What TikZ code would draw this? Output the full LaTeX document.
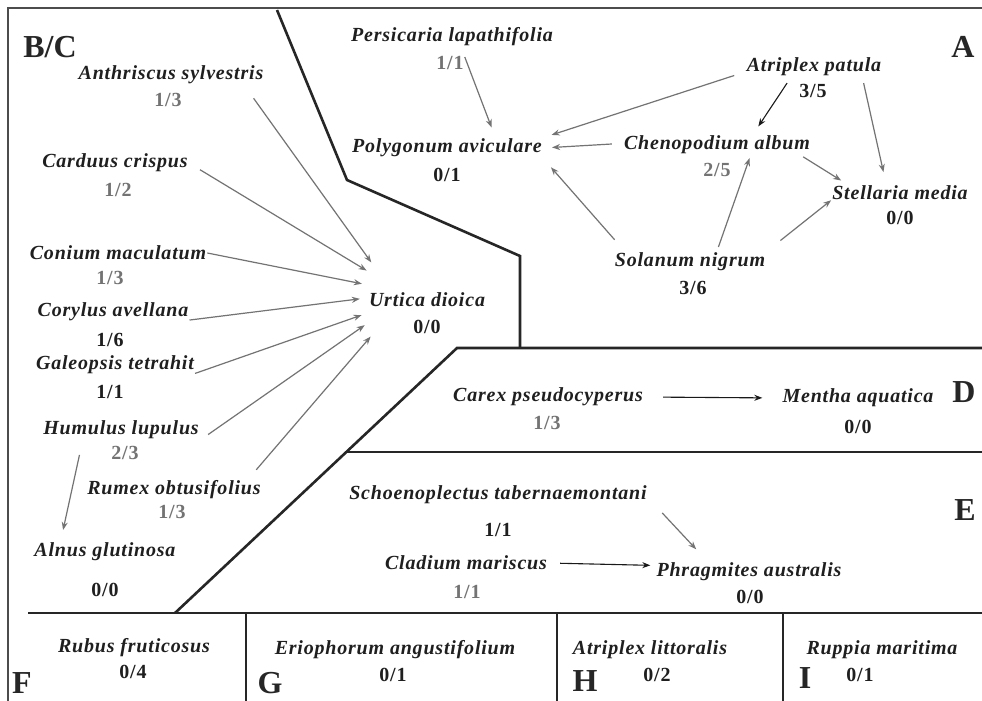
\documentclass[tikz,border=0pt]{standalone}
\usepackage{fontspec}
\setmainfont{Liberation Serif}
\newfontfamily\plantfont[LetterSpace=4]{Liberation Serif}
\usetikzlibrary{arrows.meta}

\begin{document}
\begin{tikzpicture}[x=1pt,y=-1pt,
	species/.style={font=\plantfont\fontsize{20}{22}\selectfont\bfseries\itshape, text=black!88, inner sep=1pt},
	score/.style={font=\plantfont\fontsize{20}{22}\selectfont\bfseries, text=black!88, inner sep=1pt},
	faint/.style={text=black!55},
	zone/.style={font=\fontsize{32}{34}\selectfont\bfseries, text=black!85, inner sep=0pt},
	border/.style={line width=2.6pt, draw=black!85},
	frame/.style={line width=1.6pt, draw=black!70},
	link/.style={-{Stealth[length=8pt,width=6pt]}, line width=1.2pt, draw=black!55},
	dark/.style={draw=black!90, line width=1.1pt}]
	\useasboundingbox (0,0) rectangle (982,701);
	\fill[white] (0,0) rectangle (982,701);
	\draw[frame] (8,701) -- (8,8) -- (982,8);
	\draw[border] (277,10) -- (347,180) -- (520,256) -- (520,348);
	\draw[border] (982,348) -- (457,348) -- (175,613);
	\draw[border] (346,452) -- (982,452);
	\draw[border] (28,613) -- (982,613);
	\draw[border] (246,613) -- (246,701);
	\draw[border] (557,613) -- (557,701);
	\draw[border] (783,613) -- (783,701);

	\node[zone] (zBC) at (50,47) {B/C};
	\node[zone] (zA) at (963,47) {A};
	\node[zone] (zD) at (964,392) {D};
	\node[zone] (zE) at (965,510) {E};
	\node[zone] (zF) at (22,683) {F};
	\node[zone] (zG) at (270,683) {G};
	\node[zone] (zH) at (585,681) {H};
	\node[zone] (zI) at (805,678) {I};

	\node[species] (pers) at (452,37) {Persicaria lapathifolia};
	\node[score,faint] (persn) at (450,63) {1/1};
	\node[species] (poly) at (447,148) {Polygonum aviculare};
	\node[score] (polyn) at (447,175) {0/1};
	\node[species] (atrpat) at (814,67) {Atriplex patula};
	\node[score] (atrpatn) at (813,91) {3/5};
	\node[species] (cheno) at (717,145) {Chenopodium album};
	\node[score,faint] (chenon) at (717,170) {2/5};
	\node[species] (stell) at (900,193) {Stellaria media};
	\node[score] (stelln) at (900,218) {0/0};
	\node[species] (solan) at (690,262) {Solanum nigrum};
	\node[score] (solann) at (693,288) {3/6};

	\node[species, circle, minimum size=134pt] (urtica) at (427,300) {Urtica dioica};
	\node[score] (urtican) at (427,327) {0/0};
	\node[species] (anthr) at (171,75) {Anthriscus sylvestris};
	\node[score,faint] (anthrn) at (168,100) {1/3};
	\node[species] (cardu) at (115,163) {Carduus crispus};
	\node[score,faint] (cardun) at (118,190) {1/2};
	\node[species] (conium) at (118,253) {Conium maculatum};
	\node[score,faint] (coniumn) at (110,278) {1/3};
	\node[species] (coryl) at (113,312) {Corylus avellana};
	\node[score] (coryln) at (110,340) {1/6};
	\node[species] (galeo) at (115,365) {Galeopsis tetrahit};
	\node[score] (galeon) at (110,392) {1/1};
	\node[species] (humul) at (121,430) {Humulus lupulus};
	\node[score,faint] (humuln) at (125,453) {2/3};
	\node[species] (rumex) at (174,490) {Rumex obtusifolius};
	\node[score,faint] (rumexn) at (172,512) {1/3};
	\node[species] (alnus) at (105,552) {Alnus glutinosa};
	\node[score] (alnusn) at (105,590) {0/0};

	\node[species] (carex) at (548,397) {Carex pseudocyperus};
	\node[score,faint] (carexn) at (547,423) {1/3};
	\node[species] (mentha) at (858,398) {Mentha aquatica};
	\node[score] (menthan) at (858,427) {0/0};

	\node[species] (schoen) at (498,495) {Schoenoplectus tabernaemontani};
	\node[score] (schoenn) at (498,530) {1/1};
	\node[species] (cladium) at (466,563) {Cladium mariscus};
	\node[score,faint] (cladiumn) at (467,592) {1/1};
	\node[species] (phrag) at (749,572) {Phragmites australis};
	\node[score] (phragn) at (750,597) {0/0};

	\node[species] (rubus) at (134,648) {Rubus fruticosus};
	\node[score] (rubusn) at (133,672) {0/4};
	\node[species] (erioph) at (395,650) {Eriophorum angustifolium};
	\node[score] (eriophn) at (393,675) {0/1};
	\node[species] (atrlit) at (650,650) {Atriplex littoralis};
	\node[score] (atrlitn) at (657,675) {0/2};
	\node[species] (ruppia) at (882,650) {Ruppia maritima};
	\node[score] (ruppian) at (860,675) {0/1};

	\draw[link, shorten >=11pt] (persn.22) -- (poly.12);
	\draw[link, shorten <=12pt, shorten >=9pt] (atrpat.184) -- (poly.north east);
	\draw[link, shorten <=11pt, shorten >=9pt] (cheno.179) -- (poly.east);
	\draw[link, shorten <=16pt, shorten >=12pt] (solan.171) -- (poly.south east);
	\draw[link, dark, shorten <=7pt, shorten >=10pt] (atrpat.204) -- (cheno.16);
	\draw[link, shorten <=6pt, shorten >=13pt] (atrpat.348) -- (stell.149);
	\draw[link, shorten <=3pt, shorten >=8pt] (cheno.353) -- (stell.171);
	\draw[link, shorten <=5pt, shorten >=3pt] (solan.21) -- (cheno.343);
	\draw[link, shorten <=18pt] (solan.north east) -- (stell.186);

	\draw[link, shorten <=16pt] (anthr.352) -- (urtica.146);
	\draw[link, shorten <=13pt] (cardu.east) -- (urtica.154);
	\draw[link] (conium.east) -- (urtica.166);
	\draw[link] (coryl.354) -- (urtica.179);
	\draw[link] (galeo.354) -- (urtica.193);
	\draw[link, shorten <=10pt] (humul.south east) -- (urtica.202);
	\draw[link, shorten <=13pt] (rumex.8) -- (urtica.213);
	\draw[link, shorten <=15pt, shorten >=12pt] (humul.195) -- (alnus.167);

	\draw[link, dark, shorten <=19pt, shorten >=19pt] (carex.east) -- (mentha.west);
	\draw[link, shorten <=21pt, shorten >=17pt] (schoen.359) -- (phrag.166);
	\draw[link, dark, shorten <=12pt, shorten >=5pt] (cladium.east) -- (phrag.176);
\end{tikzpicture}
\end{document}
